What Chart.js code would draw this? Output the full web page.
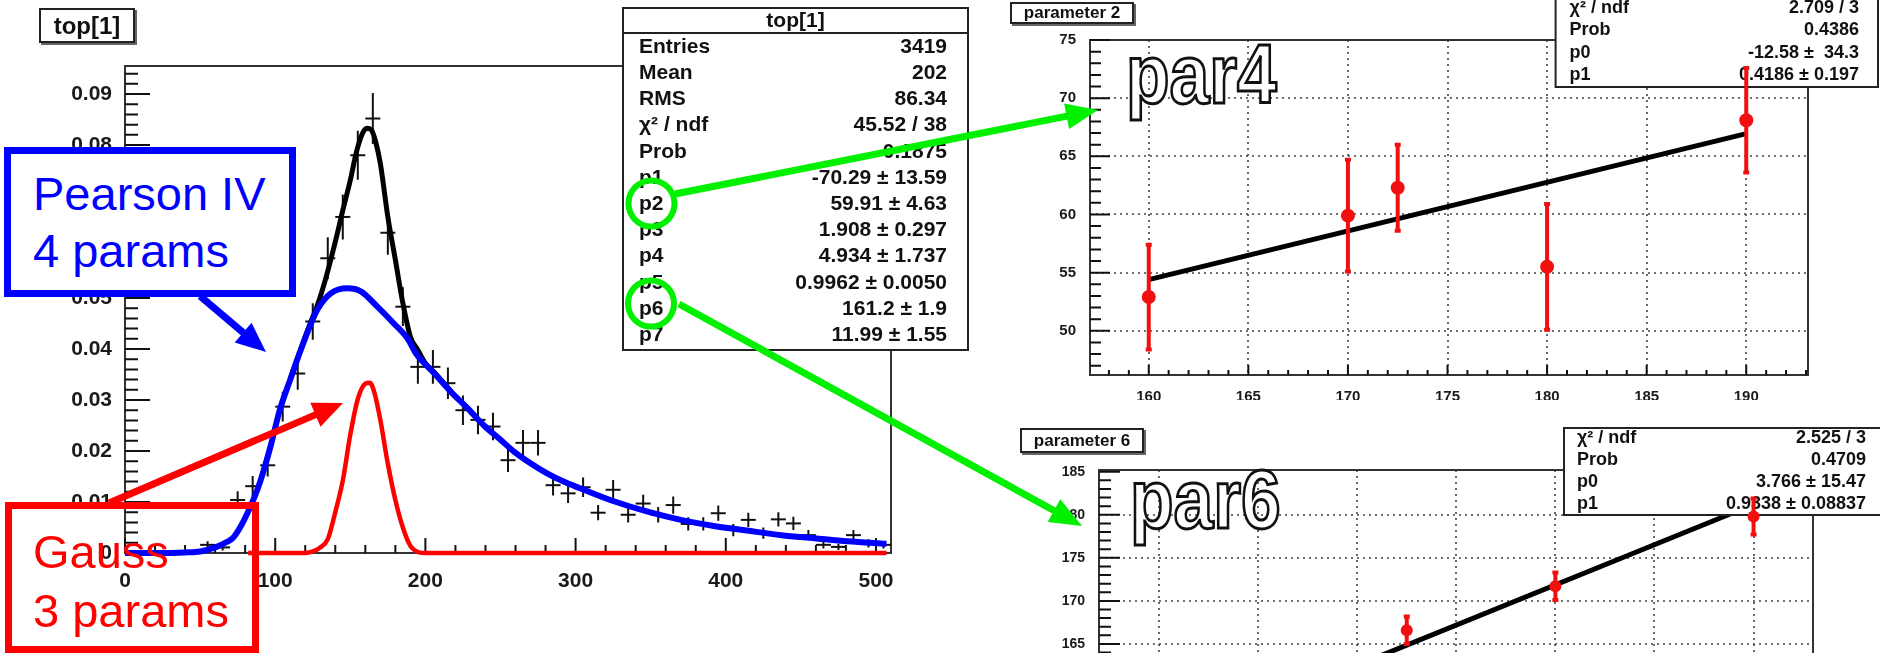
<!DOCTYPE html>
<html>
<head>
<meta charset="utf-8">
<script src="https://cdn.jsdelivr.net/npm/chart.js@4.4.1/dist/chart.umd.min.js"></script>
<style>
html, body { margin: 0; padding: 0; background: #fff; }
#stage { position: relative; width: 1880px; height: 653px; overflow: hidden; background: #fff;
  font-family: "Liberation Sans", Arial, sans-serif; }
#stage canvas { position: absolute; }
.tbox { position: absolute; border: 2px solid #222; background: #fff; font-weight: bold; color: #111;
  text-align: center; box-shadow: 2px 2px 0 #666; }
.note { position: absolute; box-sizing: border-box; border: 7px solid; }
.lbl { position: absolute; font-size: 47px; line-height: 47px; white-space: nowrap; }
.big { position: absolute; font: bold 84px/84px "Liberation Sans", Arial, sans-serif; color: #fff;
  -webkit-text-stroke: 3px #111; transform: scaleX(0.85); transform-origin: 0 0; }
#marks { position: absolute; left: 0; top: 0; }
</style>
</head>
<body>
<div id="stage">
  <canvas id="histChart" width="1000" height="653" style="left:0;top:0"></canvas>
  <canvas id="par2Chart" width="880" height="400" style="left:1000px;top:0"></canvas>
  <canvas id="par6Chart" width="880" height="430" style="left:1000px;top:400px"></canvas>

  <div class="tbox" style="left:39px;top:8px;width:92px;height:31px;font-size:24px;line-height:31px">top[1]</div>
  <div class="tbox" style="left:1010px;top:2px;width:120px;height:18px;font-size:17px;line-height:18px">parameter 2</div>
  <div class="tbox" style="left:1020px;top:428px;width:120px;height:21px;font-size:17px;line-height:21px">parameter 6</div>

  <div class="big" style="left:1126px;top:32px">par4</div>
  <div class="big" style="left:1130px;top:457px">par6</div>

  <div class="note" style="left:4px;top:147px;width:292px;height:150px;border-color:#0000ff;background:#fff"></div>
  <div class="lbl" style="left:33px;top:170px;color:#0000ff">Pearson IV</div>
  <div class="lbl" style="left:33px;top:227px;color:#0000ff">4 params</div>

  <div class="note" style="left:5px;top:502px;width:254px;height:151px;border-color:#ff0000"></div>
  <div class="lbl" style="left:33px;top:528px;color:#ff0000">Gauss</div>
  <div class="lbl" style="left:33px;top:587px;color:#ff0000">3 params</div>

  <svg id="marks" width="1880" height="653"></svg>
</div>

<script>
Chart.defaults.font.family = '"Liberation Sans", Arial, sans-serif'
Chart.defaults.animation = false

// ---- left: normalised histogram top[1] and its fit components ----
const histX = [5, 15, 25, 35, 45, 55, 65, 75, 85, 95, 105, 115, 125, 135, 145, 155, 165, 175, 185, 195,
    205, 215, 225, 235, 245, 255, 265, 275, 285, 295, 305, 315, 325, 335, 345, 355, 365, 375, 385, 395,
    405, 415, 425, 435, 445, 455, 465, 475, 485, 495, 505]
const histY = [0, 0, 0, 0, 0.0003, 0.0016, 0.0011, 0.0104, 0.0131, 0.0172, 0.0287, 0.0352, 0.0454, 0.0578,
    0.0659, 0.0780, 0.0852, 0.0628, 0.0483, 0.0365, 0.0365, 0.0333, 0.0280, 0.0261, 0.0248, 0.0182, 0.0216,
    0.0216, 0.0133, 0.0117, 0.0129, 0.0079, 0.0124, 0.0075, 0.0097, 0.0075, 0.0094, 0.0057, 0.0057, 0.0078,
    0.0045, 0.0065, 0.0039, 0.0066, 0.0058, 0.0035, 0.0016, 0.0012, 0.0035, 0.0019, 0.0016]
const histErr = [0, 0, 0, 0, 0.0003, 0.0007, 0.0006, 0.0017, 0.0020, 0.0022, 0.0029, 0.0032, 0.0036, 0.0041,
    0.0044, 0.0048, 0.0050, 0.0043, 0.0038, 0.0033, 0.0033, 0.0031, 0.0029, 0.0028, 0.0027, 0.0023, 0.0025,
    0.0025, 0.0020, 0.0019, 0.0019, 0.0015, 0.0019, 0.0015, 0.0017, 0.0015, 0.0017, 0.0013, 0.0013, 0.0015,
    0.0012, 0.0014, 0.0011, 0.0014, 0.0013, 0.0010, 0.0007, 0.0006, 0.0010, 0.0008, 0.0007]

const pearsonX = [0, 20, 40, 50, 61, 68, 72, 77, 81, 86, 90, 97, 103, 110, 117, 123, 128, 137, 148, 157, 168,
    179, 188, 194, 206, 217, 228, 239, 250, 259, 270, 281, 292, 303, 326, 348, 370, 392, 414, 437, 459, 481, 507]
const pearsonY = [0, 0, 0.0001, 0.0003, 0.0012, 0.0022, 0.0030, 0.0052, 0.0075, 0.0108, 0.0140, 0.0210,
    0.0280, 0.0340, 0.0398, 0.0444, 0.0477, 0.0509, 0.0519, 0.0513, 0.0483, 0.0450, 0.0421, 0.0390, 0.0352,
    0.0316, 0.0284, 0.0250, 0.0222, 0.0199, 0.0176, 0.0156, 0.0140, 0.0127, 0.0101, 0.0081, 0.0065, 0.0053,
    0.0044, 0.0035, 0.0029, 0.0023, 0.0018]

const totalX = [110, 117, 123, 128, 134, 140, 145, 150, 154, 158, 161, 164, 167, 170, 175, 180, 185, 190,
    195, 200, 206, 217]
const totalY = [0.0341, 0.0400, 0.0448, 0.0485, 0.0542, 0.0610, 0.0672, 0.0731, 0.0785, 0.0822, 0.0833,
    0.0830, 0.0805, 0.0764, 0.0659, 0.0575, 0.0490, 0.0424, 0.0398, 0.0372, 0.0354, 0.0317]

const gaussX = [82, 120, 125, 130, 135, 140, 145, 150, 155, 160, 163, 166, 170, 175, 180, 185, 190, 195, 200, 507]
const gaussY = [0, 0, 0.0003, 0.0011, 0.0027, 0.0080, 0.0142, 0.0232, 0.0302, 0.0332, 0.0334, 0.0315,
    0.0261, 0.0175, 0.0104, 0.0050, 0.0014, 0.0002, 0, 0]

const histXTicks = [0, 100, 200, 300, 400, 500]
const histYTicks = [0, 0.01, 0.02, 0.03, 0.04, 0.05, 0.06, 0.07, 0.08, 0.09]
const histYLabels = ['0', '0.01', '0.02', '0.03', '0.04', '0.05', '0.06', '0.07', '0.08', '0.09']

const histStatLabels = ['Entries', 'Mean', 'RMS', 'χ² / ndf', 'Prob', 'p1', 'p2', 'p3', 'p4', 'p5', 'p6', 'p7']
const histStatValues = ['3419', '202', '86.34', '45.52 / 38', '0.1875', '-70.29 ± 13.59', '59.91 ± 4.63',
    '1.908 ± 0.297', '4.934 ± 1.737', '0.9962 ± 0.0050', '161.2 ± 1.9', '11.99 ± 1.55']

// ---- top right: parameter 2 vs x ----
const par2X = [160, 170, 172.5, 180, 190]
const par2Y = [52.9, 59.9, 62.3, 55.5, 68.1]
const par2Err = [4.5, 4.8, 3.7, 5.4, 4.5]
const fit2X = [160, 190]
const fit2Y = [54.4, 66.95]
const par2XTicks = [160, 165, 170, 175, 180, 185, 190]
const par2YTicks = [50, 55, 60, 65, 70, 75]
const par2StatLabels = ['χ² / ndf', 'Prob', 'p0', 'p1']
const par2StatValues = ['2.709 / 3', '0.4386', '-12.58 ±  34.3', '0.4186 ± 0.197']

// ---- bottom right: parameter 6 vs x ----
const par6X = [172.5, 180, 190]
const par6Y = [166.6, 171.7, 179.8]
const par6Err = [1.6, 1.6, 2.1]
const fit6X = [160, 190]
const fit6Y = [153.2, 181.2]
const par6XTicks = [160, 165, 170, 175, 180, 185, 190]
const par6YTicks = [150, 155, 160, 165, 170, 175, 180, 185]
const par6StatLabels = ['χ² / ndf', 'Prob', 'p0', 'p1']
const par6StatValues = ['2.525 / 3', '0.4709', '3.766 ± 15.47', '0.9338 ± 0.08837']

const xyData = (xs, ys) => xs.map((x, i) => ({x: x, y: ys[i]}))

function drawStats (ctx, s) {
    ctx.save()
    ctx.fillStyle = '#fff'
    ctx.fillRect(s.x, s.y, s.w, s.h)
    ctx.strokeStyle = '#222'
    ctx.lineWidth = 2
    ctx.strokeRect(s.x, s.y, s.w, s.h)
    ctx.fillStyle = '#111'
    ctx.font = s.font
    ctx.textBaseline = 'middle'
    if (s.title) {
        ctx.textAlign = 'center'
        ctx.fillText(s.title, s.x + s.w / 2, s.y + s.titleH / 2 + 1)
        ctx.beginPath()
        ctx.moveTo(s.x, s.y + s.titleH)
        ctx.lineTo(s.x + s.w, s.y + s.titleH)
        ctx.stroke()
    }
    s.labels.forEach((lab, i) => {
        const cy = s.rowTop + s.rowH * (i + 0.5)
        ctx.textAlign = 'left'
        ctx.fillText(lab, s.x + s.padL, cy)
        ctx.textAlign = 'right'
        ctx.fillText(s.values[i], s.x + s.w - s.padR, cy)
    })
    ctx.restore()
}

function drawErrors (chart, index) {
    const ds = chart.data.datasets[index]
    if (!ds.errY) return
    const ctx = chart.ctx
    const xs = chart.scales.x, ys = chart.scales.y
    ctx.save()
    ctx.strokeStyle = ds.errColor
    ctx.lineWidth = ds.errWidth
    ctx.beginPath()
    ds.data.forEach((pt, j) => {
        const e = ds.errY[j]
        if (!e) return
        const px = xs.getPixelForValue(pt.x)
        const y1 = ys.getPixelForValue(pt.y - e)
        const y2 = ys.getPixelForValue(pt.y + e)
        ctx.moveTo(px, y1)
        ctx.lineTo(px, y2)
        if (ds.errCap) {
            ctx.moveTo(px - ds.errCap, y1)
            ctx.lineTo(px + ds.errCap, y1)
            ctx.moveTo(px - ds.errCap, y2)
            ctx.lineTo(px + ds.errCap, y2)
        }
    })
    ctx.stroke()
    ctx.restore()
}

// ROOT style frame: inward ticks on left and bottom, optional dotted grid
function drawFrame (chart, cfg) {
    const ctx = chart.ctx
    const a = chart.chartArea
    const xs = chart.scales.x, ys = chart.scales.y
    ctx.save()
    if (cfg.grid) {
        ctx.strokeStyle = '#444'
        ctx.lineWidth = 1.6
        ctx.setLineDash([2, 4])
        ctx.beginPath()
        cfg.xMajor.forEach(v => {
            const p = Math.round(xs.getPixelForValue(v))
            if (p > a.left + 2 && p < a.right - 2) { ctx.moveTo(p, a.top); ctx.lineTo(p, a.bottom) }
        })
        cfg.yMajor.forEach(v => {
            const p = Math.round(ys.getPixelForValue(v))
            if (p > a.top + 2 && p < a.bottom - 2) { ctx.moveTo(a.left, p); ctx.lineTo(a.right, p) }
        })
        ctx.stroke()
        ctx.setLineDash([])
    }
    ctx.strokeStyle = '#333'
    ctx.lineWidth = 2
    ctx.strokeRect(a.left, a.top, a.right - a.left, a.bottom - a.top)

    const near = (list, v, eps) => list.some(m => Math.abs(m - v) < eps)
    ctx.strokeStyle = '#111'
    ctx.beginPath()
    for (let k = 0; ; k++) {
        const v = cfg.xMinor[0] + k * cfg.xMinor[1]
        if (v > xs.max) break
        const p = xs.getPixelForValue(v)
        const len = near(cfg.xMajor, v, cfg.xMinor[1] / 10) ? cfg.xLen[0] : cfg.xLen[1]
        ctx.moveTo(p, a.bottom)
        ctx.lineTo(p, a.bottom - len)
    }
    for (let k = 0; ; k++) {
        const v = cfg.yMinor[0] + k * cfg.yMinor[1]
        if (v > ys.max) break
        const p = ys.getPixelForValue(v)
        const len = near(cfg.yMajor, v, cfg.yMinor[1] / 10) ? cfg.yLen[0] : cfg.yLen[1]
        ctx.moveTo(a.left, p)
        ctx.lineTo(a.left + len, p)
    }
    ctx.stroke()
    ctx.restore()
}

function padPlugin (cfg) {
    return {
        id: 'pad_' + cfg.name,
        beforeDatasetsDraw (chart) { drawFrame(chart, cfg) },
        beforeDatasetDraw (chart, args) { drawErrors(chart, args.index) },
        afterDatasetDraw (chart, args) {
            if (cfg.stats && cfg.stats.after === args.index) drawStats(chart.ctx, cfg.stats)
        },
        afterDraw (chart) {
            if (cfg.stats && cfg.stats.after === 'end') drawStats(chart.ctx, cfg.stats)
        },
    }
}

function linearAxis (min, max, tickValues, fontSize, padding, fitFn, labelFn) {
    return {
        type: 'linear',
        min: min,
        max: max,
        bounds: 'data',
        grid: { display: false },
        border: { display: false },
        afterBuildTicks: s => { s.ticks = tickValues.map(v => ({ value: v })) },
        afterFit: fitFn,
        ticks: {
            font: { size: fontSize, weight: 'bold' },
            color: '#1a1a1a',
            padding: padding,
            maxRotation: 0,
            autoSkip: false,
            callback: labelFn || (v => String(v)),
        },
    }
}

const baseOptions = (padding) => ({
    responsive: false,
    animation: false,
    events: [],
    layout: { padding: padding },
    plugins: { legend: { display: false }, tooltip: { enabled: false } },
})

// left histogram
new Chart(document.getElementById('histChart'), {
    type: 'scatter',
    data: {
        datasets: [
            {
                data: xyData(pearsonX, pearsonY), showLine: true, borderColor: '#0000ff', borderWidth: 6,
                pointRadius: 0, cubicInterpolationMode: 'monotone', clip: 10,
            }, {
                data: xyData(gaussX, gaussY), showLine: true, borderColor: '#ff0000', borderWidth: 4.5,
                pointRadius: 0, cubicInterpolationMode: 'monotone', clip: 10,
            }, {
                data: xyData(totalX, totalY), showLine: true, borderColor: '#000', borderWidth: 5,
                pointRadius: 0, cubicInterpolationMode: 'monotone', clip: 10,
            }, {
                data: xyData(histX, histY), showLine: false, pointStyle: 'line', pointRadius: 7.5,
                pointBorderWidth: 2, borderColor: '#111', pointBorderColor: '#111', clip: 10,
                errY: histErr, errColor: '#111', errWidth: 2,
            }],
    },
    options: Object.assign(baseOptions({ top: 66, right: 109, left: 0, bottom: 0 }), {
        scales: {
            x: linearAxis(0, 510, histXTicks, 21, 8, s => { s.height = 100 }),
            y: linearAxis(0, 0.0955, histYTicks, 21, 5, s => { s.width = 125 },
                v => histYLabels[histYTicks.indexOf(v)]),
        },
    }),
    plugins: [padPlugin({
        name: 'hist',
        xMajor: histXTicks, xMinor: [0, 20], xLen: [15, 8],
        yMajor: histYTicks, yMinor: [0, 0.002], yLen: [25, 13],
        stats: {
            after: 'end', x: 623, y: 8, w: 345, h: 342, title: 'top[1]', titleH: 25,
            rowTop: 34, rowH: 26.2, padL: 16, padR: 21,
            font: 'bold 21px "Liberation Sans", Arial, sans-serif',
            labels: histStatLabels, values: histStatValues,
        },
    })],
})

// parameter 2
new Chart(document.getElementById('par2Chart'), {
    type: 'scatter',
    data: {
        datasets: [
            {
                data: xyData(par2X, par2Y), pointRadius: 7, pointBorderWidth: 0,
                pointBackgroundColor: '#f01010', backgroundColor: '#f01010', clip: 10,
                errY: par2Err, errColor: '#f01010', errWidth: 4, errCap: 3,
            }, {
                data: xyData(fit2X, fit2Y), showLine: true, borderColor: '#000', borderWidth: 5,
                pointRadius: 0, clip: 10,
            }],
    },
    options: Object.assign(baseOptions({ top: 40, right: 72, left: 0, bottom: 0 }), {
        scales: {
            x: linearAxis(157.05, 193.1, par2XTicks, 15, 5, s => { s.height = 25 }),
            y: linearAxis(46.2, 75, par2YTicks, 15, 6, s => { s.width = 90 }),
        },
    }),
    plugins: [padPlugin({
        name: 'par2', grid: true,
        xMajor: par2XTicks, xMinor: [158, 1], xLen: [10, 5],
        yMajor: par2YTicks, yMinor: [47, 1], yLen: [20, 11],
        stats: {
            after: 1, x: 555.6, y: -5, w: 322.4, h: 92,
            rowTop: -3, rowH: 22.3, padL: 14, padR: 19,
            font: 'bold 18px "Liberation Sans", Arial, sans-serif',
            labels: par2StatLabels, values: par2StatValues,
        },
    })],
})

// parameter 6
new Chart(document.getElementById('par6Chart'), {
    type: 'scatter',
    data: {
        datasets: [
            {
                data: xyData(par6X, par6Y), pointRadius: 6, pointBorderWidth: 0,
                pointBackgroundColor: '#f01010', backgroundColor: '#f01010', clip: 10,
                errY: par6Err, errColor: '#f01010', errWidth: 4, errCap: 3,
            }, {
                data: xyData(fit6X, fit6Y), showLine: true, borderColor: '#000', borderWidth: 5,
                pointRadius: 0, clip: 10,
            }],
    },
    options: Object.assign(baseOptions({ top: 70, right: 67, left: 0, bottom: 0 }), {
        scales: {
            x: linearAxis(156.97, 193.0, par6XTicks, 15, 5, s => { s.height = 25 }),
            y: linearAxis(146.3, 185.2, par6YTicks, 14, 6, s => { s.width = 99 }),
        },
    }),
    plugins: [padPlugin({
        name: 'par6', grid: true,
        xMajor: par6XTicks, xMinor: [157, 1], xLen: [10, 5],
        yMajor: par6YTicks, yMinor: [147, 1], yLen: [21, 12],
        stats: {
            after: 1, x: 564, y: 28, w: 330, h: 87,
            rowTop: 27, rowH: 22, padL: 13, padR: 28,
            font: 'bold 18px "Liberation Sans", Arial, sans-serif',
            labels: par6StatLabels, values: par6StatValues,
        },
    })],
})

// annotation arrows and circles
const svg = document.getElementById('marks')
const NS = 'http://www.w3.org/2000/svg'

function addEl (tag, attrs) {
    const el = document.createElementNS(NS, tag)
    Object.keys(attrs).forEach(k => el.setAttribute(k, attrs[k]))
    svg.appendChild(el)
}

function arrow (x1, y1, x2, y2, color, w, hl, hw) {
    const L = Math.hypot(x2 - x1, y2 - y1)
    const ux = (x2 - x1) / L, uy = (y2 - y1) / L
    const bx = x2 - ux * hl, by = y2 - uy * hl
    addEl('line', { x1: x1, y1: y1, x2: bx + ux * 3, y2: by + uy * 3, stroke: color, 'stroke-width': w })
    addEl('polygon', {
        points: [x2, y2, bx - uy * hw / 2, by + ux * hw / 2, bx + uy * hw / 2, by - ux * hw / 2].join(' '),
        fill: color,
    })
}

const green = '#00f000'
addEl('circle', { cx: 651.5, cy: 203.5, r: 23, fill: 'none', stroke: green, 'stroke-width': 6 })
addEl('circle', { cx: 651, cy: 303.5, r: 23, fill: 'none', stroke: green, 'stroke-width': 6 })
arrow(675, 194, 1098, 110, green, 7, 32, 26)
arrow(679, 304, 1082, 526, green, 7, 32, 26)
arrow(200, 296, 266, 352, '#0000ff', 7, 30, 26)
arrow(109, 503, 343, 403, '#ff0000', 7, 30, 26)
</script>
</body>
</html>
